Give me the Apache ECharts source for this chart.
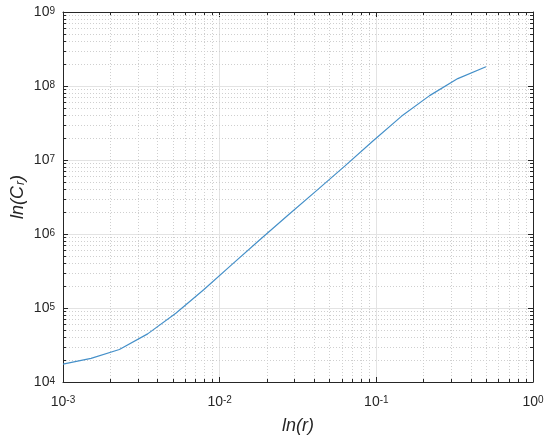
<!DOCTYPE html>
<html>
<head>
<meta charset="utf-8">
<script src="https://cdn.jsdelivr.net/npm/echarts@6/dist/echarts.min.js"></script>
<style>
html,body{margin:0;padding:0;background:#fff;}
#chart{width:550px;height:436px;}
</style>
</head>
<body>
<div id="chart"></div>
<script>
// ---- data ----
const rValues = [0.001, 0.00151, 0.00229, 0.00347, 0.00525, 0.00794, 0.0120, 0.0182, 0.0275, 0.0417, 0.0631, 0.0955, 0.1445, 0.2188, 0.3311, 0.501];
const crValues = [1.74e4, 2.09e4, 2.75e4, 4.47e4, 8.51e4, 1.78e5, 3.89e5, 8.51e5, 1.82e6, 3.89e6, 8.32e6, 1.82e7, 3.89e7, 7.41e7, 1.26e8, 1.82e8];
const xRange = [1e-3, 1e0];
const yRange = [1e4, 1e9];
const xTitle = 'ln(r)';
const yTitleMain = 'ln(C';
const yTitleSub = 'r';

const FONT = '"Liberation Sans", Arial, Helvetica, sans-serif';
const AX = '#262626';

function minorValues(range) {
  const out = [];
  const d0 = Math.round(Math.log10(range[0]));
  const d1 = Math.round(Math.log10(range[1]));
  for (let d = d0; d < d1; d++) {
    for (let m = 2; m <= 9; m++) out.push(m * Math.pow(10, d));
  }
  return out;
}
const xMinor = minorValues(xRange);
const yMinor = minorValues(yRange);

function powLabel(v) {
  const e = Math.round(Math.log10(v));
  return '{b|10}{s|' + e + '}';
}
const xLabelRich = {
  b: {fontSize: 14, fontFamily: FONT, color: AX, lineHeight: 14, padding: [3, 0, 0, 0], verticalAlign: 'bottom'},
  s: {fontSize: 10, fontFamily: FONT, color: AX, lineHeight: 10, verticalAlign: 'top'}
};
const yLabelRich = {
  b: {fontSize: 14, fontFamily: FONT, color: AX, lineHeight: 14, padding: [6, 0, 0, 0], verticalAlign: 'bottom'},
  s: {fontSize: 10, fontFamily: FONT, color: AX, lineHeight: 10, padding: [1, 0, 0, 0], verticalAlign: 'top'}
};

const chart = echarts.init(document.getElementById('chart'), null, {renderer: 'canvas'});

const baseLog = {
  type: 'log', logBase: 10,
  axisLine: {show: true, onZero: false, lineStyle: {color: AX, width: 1}},
  axisTick: {show: true, inside: true, length: 5, lineStyle: {color: AX}},
  minorTick: {show: false},
  minorSplitLine: {show: false}
};

chart.setOption({
  animation: false,
  backgroundColor: '#ffffff',
  grid: {left: 63, top: 12, right: 17, bottom: 54, containLabel: false, outerBoundsMode: 'none'},
  xAxis: [
    Object.assign({}, baseLog, {
      min: xRange[0], max: xRange[1], position: 'bottom',
      axisLabel: {formatter: powLabel, rich: xLabelRich, margin: 13, color: AX},
      splitLine: {show: true, lineStyle: {color: '#e3e3e3', width: 1}},
      name: xTitle, nameLocation: 'middle', nameGap: 35,
      nameTextStyle: {fontFamily: FONT, fontStyle: 'italic', fontSize: 18, color: AX}
    }),
    Object.assign({}, baseLog, {
      min: xRange[0], max: xRange[1], position: 'top',
      axisLabel: {show: false}, splitLine: {show: false}
    })
  ],
  yAxis: [
    Object.assign({}, baseLog, {
      min: yRange[0], max: yRange[1], position: 'left',
      axisLabel: {formatter: powLabel, rich: yLabelRich, margin: 8, color: AX},
      splitLine: {show: true, lineStyle: {color: '#e3e3e3', width: 1}},
      name: '{a|' + yTitleMain + '}{c|' + yTitleSub + '}{a|)}',
      nameLocation: 'middle', nameGap: 36, nameRotate: 90, nameMoveOverlap: false,
      nameTextStyle: {
        rich: {
          a: {fontFamily: FONT, fontStyle: 'italic', fontSize: 18, color: AX, lineHeight: 18, verticalAlign: 'top'},
          c: {fontFamily: FONT, fontStyle: 'italic', fontSize: 12, color: AX, lineHeight: 12, padding: [9, 0, 0, 1], verticalAlign: 'bottom'}
        }
      }
    }),
    Object.assign({}, baseLog, {
      min: yRange[0], max: yRange[1], position: 'right',
      axisLabel: {show: false}, splitLine: {show: false}
    })
  ],
  series: [
    {
      type: 'custom',
      xAxisIndex: 0, yAxisIndex: 0,
      silent: true, z: 1,
      data: [[xRange[0], yRange[0]]],
      renderItem: function (params, api) {
        const children = [];
        const dash = {stroke: '#cfcfcf', lineWidth: 1, lineDash: [1, 2]};
        const tick = {stroke: AX, lineWidth: 1};
        xMinor.forEach(function (v) {
          const p0 = api.coord([v, yRange[0]]);
          const p1 = api.coord([v, yRange[1]]);
          const x = Math.round(p0[0]) + 0.5;
          children.push({type: 'line', shape: {x1: x, y1: p0[1], x2: x, y2: p1[1]}, style: dash});
          children.push({type: 'line', shape: {x1: x, y1: p0[1], x2: x, y2: p0[1] - 3}, style: tick, z2: 10});
          children.push({type: 'line', shape: {x1: x, y1: p1[1], x2: x, y2: p1[1] + 3}, style: tick, z2: 10});
        });
        yMinor.forEach(function (v) {
          const p0 = api.coord([xRange[0], v]);
          const p1 = api.coord([xRange[1], v]);
          const y = Math.round(p0[1]) + 0.5;
          children.push({type: 'line', shape: {x1: p0[0], y1: y, x2: p1[0], y2: y}, style: dash});
          children.push({type: 'line', shape: {x1: p0[0], y1: y, x2: p0[0] + 3, y2: y}, style: tick, z2: 10});
          children.push({type: 'line', shape: {x1: p1[0], y1: y, x2: p1[0] - 3, y2: y}, style: tick, z2: 10});
        });
        return {type: 'group', children: children};
      }
    },
    {
      type: 'line',
      xAxisIndex: 0, yAxisIndex: 0,
      data: rValues.map(function (r, i) { return [r, crValues[i]]; }),
      showSymbol: false, symbol: 'none', smooth: false,
      lineStyle: {color: '#4590c9', width: 1.2},
      z: 5
    }
  ]
});
</script>
</body>
</html>
